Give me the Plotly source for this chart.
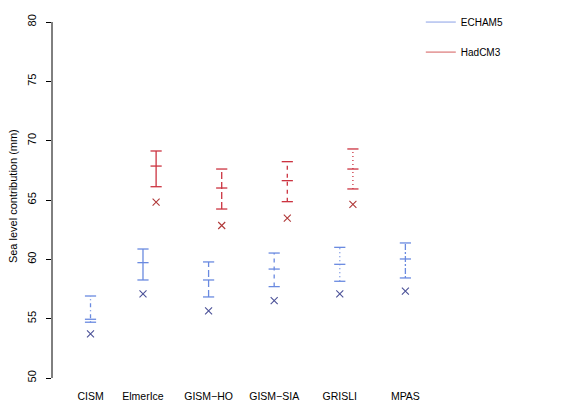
import plotly.graph_objects as go

# ---- data ----
models = ["CISM", "ElmerIce", "GISM−HO", "GISM−SIA", "GRISLI", "MPAS"]
model_pos = [1.2, 2, 3, 4, 5, 6]

echam_min = [54.7, 58.26, 56.83, 57.70, 58.15, 58.43]
echam_mean = [54.95, 59.72, 58.26, 59.18, 59.58, 60.03]
echam_max = [56.91, 60.87, 59.78, 60.53, 61.01, 61.38]
echam_ctrl = [53.71, 57.08, 55.65, 56.52, 57.08, 57.33]

hadcm_models = ["ElmerIce", "GISM−HO", "GISM−SIA", "GRISLI"]
hadcm_min = [66.12, 64.24, 64.86, 65.93]
hadcm_mean = [67.86, 66.01, 66.63, 67.61]
hadcm_max = [69.13, 67.61, 68.23, 69.30]
hadcm_ctrl = [64.83, 62.85, 63.48, 64.64]

y_ticks = [50, 55, 60, 65, 70, 75, 80]

# ---- styles ----
FONT = "Liberation Sans, Arial, sans-serif"
BLUE = "#6a8ae0"
BLUE_X = "#4c5298"
RED = "#cc3340"
RED_X = "#b03838"
DASH = {
    "CISM": "1px,3px,4px,3px",
    "ElmerIce": "solid",
    "GISM−HO": "7px,3px",
    "GISM−SIA": "4px,4px",
    "GRISLI": "1px,3px",
    "MPAS": "2px,2px,6px,2px",
}
RED_OFFSET = 0.2

fig = go.Figure()


def add_bars(names, mins, means, maxs, ctrl, color, xcolor, offset):
    xs = []
    for name, lo, mid, hi in zip(names, mins, means, maxs):
        x = model_pos[models.index(name)] + offset
        xs.append(x)
        fig.add_trace(go.Scatter(
            x=[x, x, x], y=[lo, mid, hi], mode="lines+markers",
            line=dict(color=color, width=1.3, dash=DASH[name]),
            marker=dict(symbol="line-ew", size=8, color=color,
                        line=dict(width=1.3, color=color)),
            showlegend=False, hoverinfo="skip"))
    fig.add_trace(go.Scatter(
        x=xs, y=ctrl, mode="markers",
        marker=dict(symbol="x-thin", size=7, color=xcolor,
                    line=dict(width=1.1, color=xcolor)),
        showlegend=False))


add_bars(models, echam_min, echam_mean, echam_max, echam_ctrl, BLUE, BLUE_X, 0)
add_bars(hadcm_models, hadcm_min, hadcm_mean, hadcm_max, hadcm_ctrl, RED, RED_X, RED_OFFSET)

# legend entries
fig.add_trace(go.Scatter(x=[None], y=[None], mode="lines", name="ECHAM5",
                         line=dict(color="#8aa0e6", width=1), legend="legend"))
fig.add_trace(go.Scatter(x=[None], y=[None], mode="lines", name="HadCM3",
                         line=dict(color="#d45c5c", width=1), legend="legend2"))

# y axis line spanning only the tick range
fig.add_shape(type="line", xref="paper", x0=0, x1=0, yref="y",
              y0=min(y_ticks), y1=max(y_ticks), line=dict(color="black", width=1))

fig.add_annotation(text="Sea level contribution (mm)", textangle=-90,
                   xref="paper", x=0, xshift=-47, yref="paper", y=0.505,
                   showarrow=False, font=dict(family=FONT, size=11, color="black"))

fig.update_layout(
    width=580, height=408,
    margin=dict(l=52, r=20, t=8, b=20),
    paper_bgcolor="white", plot_bgcolor="white",
    font=dict(family=FONT, color="black"),
    xaxis=dict(range=[0.613, 8.357], tickvals=model_pos, ticktext=models,
               showline=False, ticks="", showgrid=False, zeroline=False,
               tickfont=dict(size=10.5), automargin=False),
    yaxis=dict(range=[49.157, 81.18], tickvals=y_ticks, ticks="outside",
               ticklen=5, tickcolor="black", tickangle=-90, showline=False,
               showgrid=False, zeroline=False, tickfont=dict(size=11),
               ticklabelstandoff=6, automargin=False),
    legend=dict(x=0.726, y=0.963, xanchor="left", yanchor="middle",
                bgcolor="rgba(0,0,0,0)", font=dict(size=10)),
    legend2=dict(x=0.726, y=0.884, xanchor="left", yanchor="middle",
                 bgcolor="rgba(0,0,0,0)", font=dict(size=10)),
)

fig.write_html("out.html")
